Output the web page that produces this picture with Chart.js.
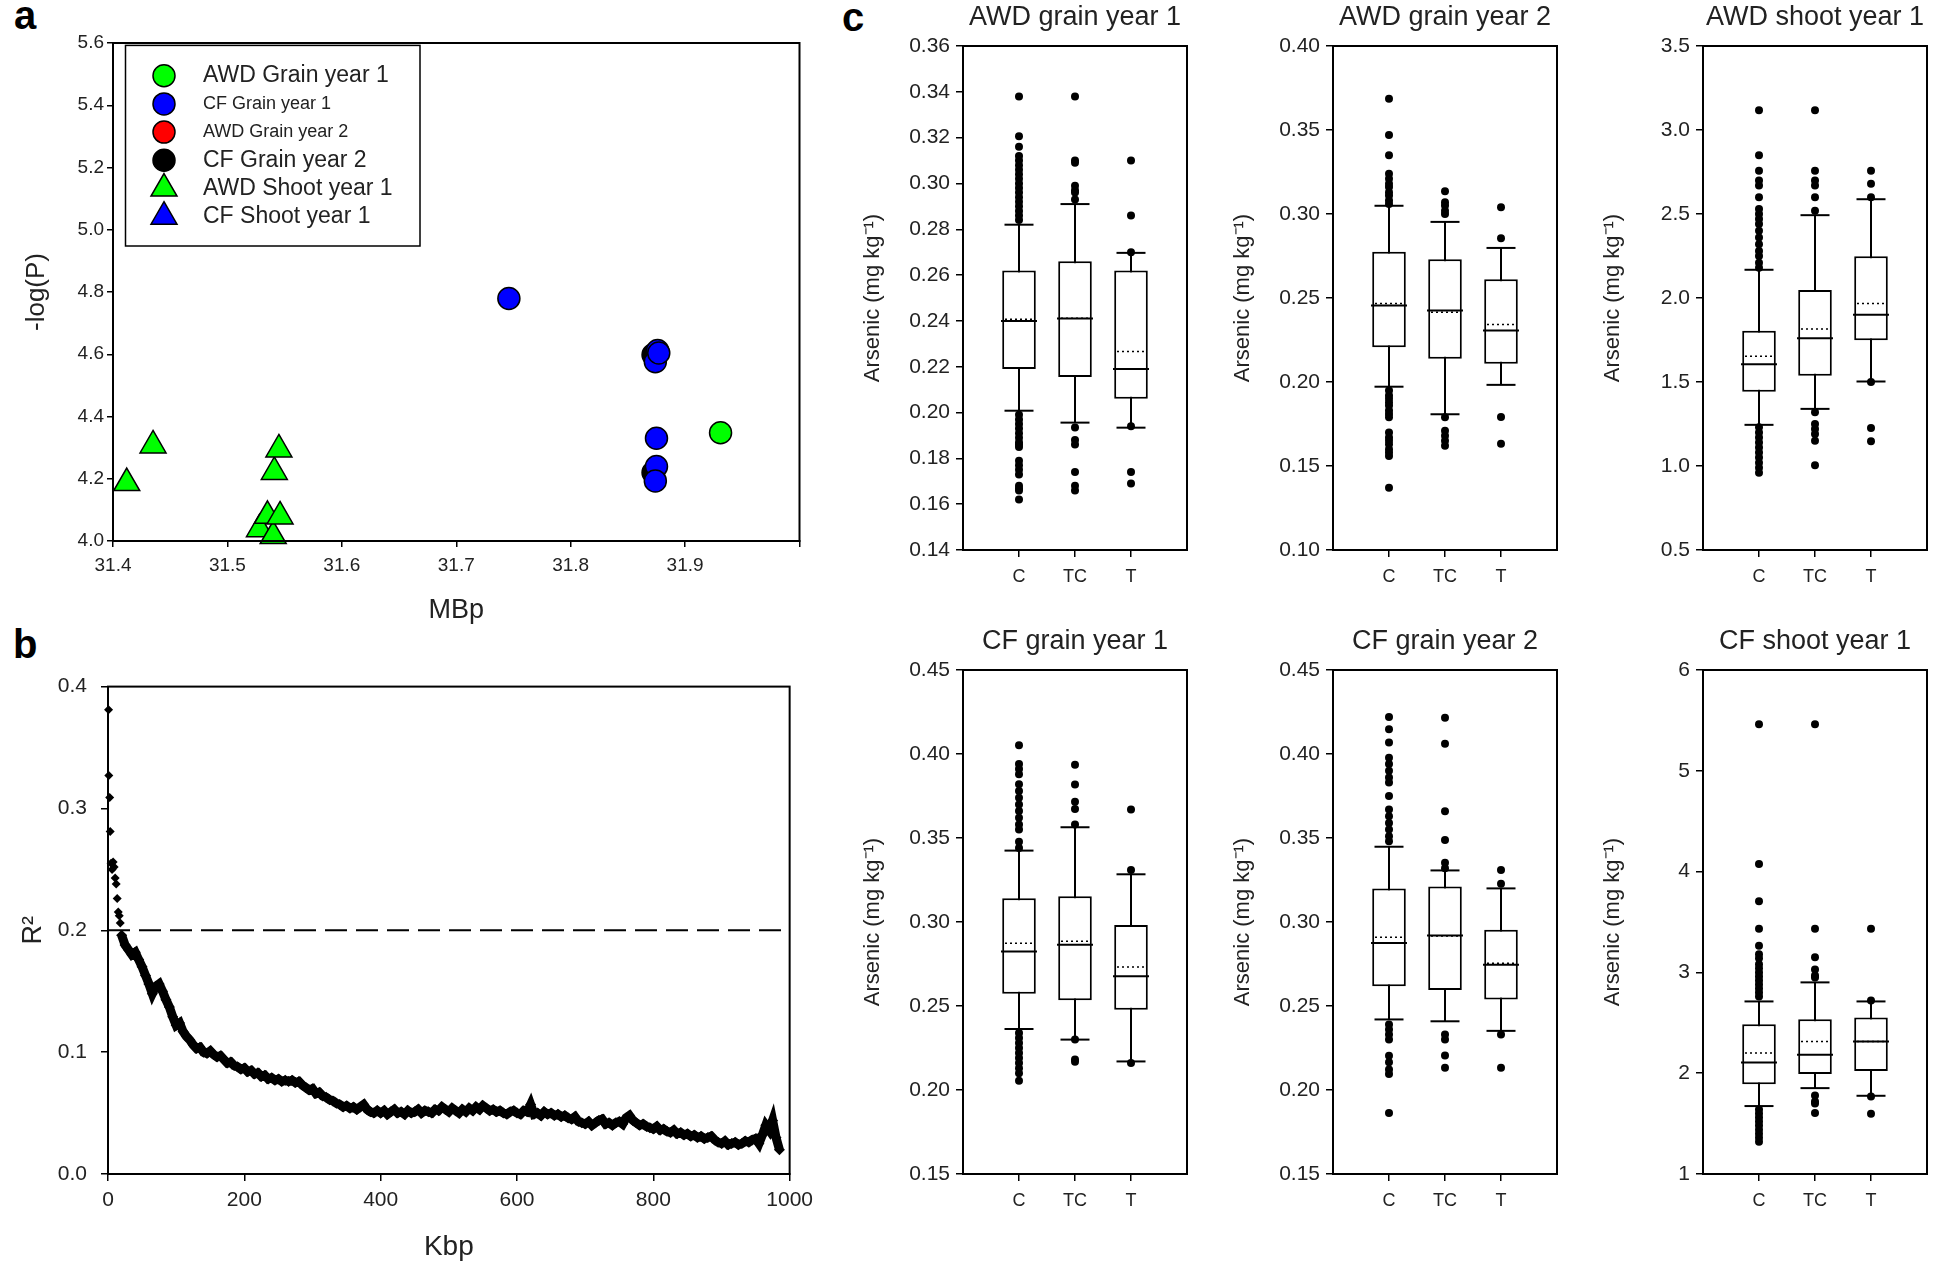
<!DOCTYPE html>
<html>
<head>
<meta charset="utf-8">
<script src="https://cdn.jsdelivr.net/npm/chart.js@4.4.1/dist/chart.umd.min.js"></script>
<style>
  html, body { margin: 0; padding: 0; background: #fff; }
  body { width: 1946px; height: 1267px; position: relative; overflow: hidden;
         font-family: "Liberation Sans", Arial, sans-serif; }
  canvas { position: absolute; }
  .tag { position: absolute; font-weight: bold; font-size: 40px; line-height: 1; color: #000; }
</style>
</head>
<body>
<div class="tag" style="left:14px;top:-5px">a</div>
<div class="tag" style="left:13px;top:624px">b</div>
<div class="tag" style="left:842px;top:-3px">c</div>

<canvas id="panelA"></canvas>
<canvas id="panelB"></canvas>
<canvas id="awdG1"></canvas>
<canvas id="awdG2"></canvas>
<canvas id="awdS1"></canvas>
<canvas id="cfG1"></canvas>
<canvas id="cfG2"></canvas>
<canvas id="cfS1"></canvas>

<script>
// ---------- panel a : significant markers (MBp, -log P) ----------
const awdGrain1X = [31.931];
const awdGrain1Y = [4.348];
const cfGrain1X = [31.746, 31.876, 31.874, 31.877, 31.875, 31.875, 31.874];
const cfGrain1Y = [4.779, 4.612, 4.576, 4.604, 4.330, 4.239, 4.193];
const awdGrain2X = [];
const awdGrain2Y = [];
const cfGrain2X = [31.872, 31.872];
const cfGrain2Y = [4.598, 4.220];
const awdShoot1X = [31.412, 31.435, 31.528, 31.535, 31.540, 31.541, 31.545, 31.546];
const awdShoot1Y = [4.186, 4.307, 4.038, 4.081, 4.016, 4.222, 4.294, 4.079];
const cfShoot1X = [];
const cfShoot1Y = [];

// ---------- panel b : LD decay (Kbp, R2) ----------
const ldEarlyKbp = [0.8, 1.2, 2.5, 3.2, 4.5, 6, 7.5, 9, 10.5, 12, 13.5, 15, 16.5, 18];
const ldEarlyR2 = [0.381, 0.327, 0.309, 0.281, 0.255, 0.250, 0.256, 0.252, 0.243, 0.238, 0.226, 0.215, 0.212, 0.206];
const ldStartKbp = 20;
const ldStepKbp = 5;
const ldR2 = [
  0.196, 0.188, 0.184, 0.180, 0.182, 0.176, 0.170, 0.163, 0.156, 0.148,
  0.154, 0.156, 0.150, 0.143, 0.137, 0.129, 0.122, 0.124, 0.117, 0.113,
  0.110, 0.106, 0.103, 0.104, 0.100, 0.099, 0.101, 0.098, 0.096, 0.097,
  0.094, 0.091, 0.092, 0.089, 0.088, 0.086, 0.087, 0.084, 0.085, 0.082,
  0.083, 0.080, 0.081, 0.078, 0.079, 0.077, 0.078, 0.076, 0.077, 0.076,
  0.077, 0.075, 0.076, 0.073, 0.071, 0.069, 0.070, 0.066, 0.067, 0.064,
  0.063, 0.061, 0.060, 0.058, 0.057, 0.055, 0.056, 0.054, 0.055, 0.053,
  0.055, 0.057, 0.053, 0.051, 0.050, 0.052, 0.050, 0.052, 0.049, 0.051,
  0.053, 0.050, 0.051, 0.049, 0.052, 0.050, 0.051, 0.053, 0.050, 0.052,
  0.051, 0.050, 0.053, 0.052, 0.055, 0.053, 0.051, 0.054, 0.052, 0.050,
  0.053, 0.051, 0.054, 0.052, 0.055, 0.053, 0.056, 0.054, 0.052, 0.053,
  0.051, 0.052, 0.050, 0.049, 0.051, 0.052, 0.050, 0.049, 0.052, 0.051,
  0.057, 0.049, 0.050, 0.048, 0.051, 0.049, 0.050, 0.048, 0.049, 0.047,
  0.048, 0.046, 0.045, 0.047, 0.043, 0.042, 0.041, 0.043, 0.040, 0.042,
  0.044, 0.045, 0.041, 0.042, 0.040, 0.042, 0.043, 0.041, 0.046, 0.048,
  0.044, 0.042, 0.040, 0.041, 0.039, 0.038, 0.037, 0.039, 0.036, 0.037,
  0.035, 0.034, 0.036, 0.033, 0.034, 0.032, 0.033, 0.031, 0.032, 0.030,
  0.031, 0.029, 0.030, 0.031, 0.028, 0.026, 0.025, 0.027, 0.024, 0.025,
  0.026, 0.024, 0.025, 0.027, 0.026, 0.028, 0.029, 0.025, 0.032, 0.040,
  0.036, 0.044, 0.030, 0.020
];
const ldThreshold = 0.2;

// ---------- panel c : arsenic box plots ----------
const boxCats = ['C', 'TC', 'T'];

const awdG1Axis = [0.14, 0.36, 0.02, 2];
const awdG1Lo = [0.2008, 0.1956, 0.1934];
const awdG1Q1 = [0.219, 0.2155, 0.206];
const awdG1Med = [0.240, 0.241, 0.219];
const awdG1Mean = [0.2407, 0.2412, 0.2267];
const awdG1Q3 = [0.262, 0.266, 0.262];
const awdG1Hi = [0.282, 0.291, 0.2697];
const awdG1Out = [
  [0.338, 0.3206, 0.316, 0.312, 0.310, 0.308, 0.306, 0.304, 0.302, 0.300, 0.298, 0.296, 0.294, 0.292, 0.290, 0.288, 0.286, 0.284,
   0.199, 0.197, 0.195, 0.193, 0.191, 0.189, 0.187, 0.186, 0.185, 0.179, 0.177, 0.175, 0.173, 0.168, 0.167, 0.166, 0.162],
  [0.338, 0.310, 0.309, 0.299, 0.297, 0.296, 0.293, 0.1935, 0.188, 0.186, 0.174, 0.168, 0.166],
  [0.310, 0.286, 0.270, 0.194, 0.174, 0.169]
];

const awdG2Axis = [0.10, 0.40, 0.05, 2];
const awdG2Lo = [0.1972, 0.1808, 0.1983];
const awdG2Q1 = [0.2207, 0.2138, 0.2109];
const awdG2Med = [0.2455, 0.2425, 0.2307];
const awdG2Mean = [0.2468, 0.2415, 0.2343];
const awdG2Q3 = [0.2776, 0.273, 0.2612];
const awdG2Hi = [0.3049, 0.2953, 0.2798];
const awdG2Out = [
  [0.3686, 0.347, 0.335, 0.324, 0.321, 0.318, 0.316, 0.313, 0.311, 0.308, 0.306,
   0.195, 0.192, 0.190, 0.188, 0.186, 0.183, 0.181, 0.179, 0.170, 0.167, 0.165, 0.163, 0.160, 0.158, 0.156, 0.137],
  [0.3135, 0.307, 0.305, 0.302, 0.300, 0.179, 0.171, 0.168, 0.165, 0.162],
  [0.304, 0.2855, 0.1792, 0.1632]
];

const awdS1Axis = [0.5, 3.5, 0.5, 1];
const awdS1Lo = [1.245, 1.340, 1.503];
const awdS1Q1 = [1.442, 1.537, 1.748];
const awdS1Med = [1.605, 1.760, 1.900];
const awdS1Mean = [1.653, 1.816, 1.968];
const awdS1Q3 = [1.805, 2.048, 2.248];
const awdS1Hi = [2.168, 2.493, 2.588];
const awdS1Out = [
  [3.117, 2.849, 2.758, 2.70, 2.67, 2.60, 2.53, 2.50, 2.47, 2.44, 2.40, 2.36, 2.32, 2.28, 2.25, 2.21, 2.18,
   1.23, 1.20, 1.17, 1.14, 1.11, 1.08, 1.05, 1.02, 0.99, 0.96],
  [3.117, 2.758, 2.70, 2.67, 2.60, 2.52, 1.32, 1.25, 1.22, 1.19, 1.15, 1.004],
  [2.758, 2.68, 2.60, 1.50, 1.226, 1.147]
];

const cfG1Axis = [0.15, 0.45, 0.05, 2];
const cfG1Lo = [0.2363, 0.2300, 0.217];
const cfG1Q1 = [0.2573, 0.2534, 0.2477];
const cfG1Med = [0.2825, 0.2864, 0.2677];
const cfG1Mean = [0.2873, 0.2886, 0.2732];
const cfG1Q3 = [0.3141, 0.3154, 0.2982];
const cfG1Hi = [0.3425, 0.3564, 0.3284];
const cfG1Out = [
  [0.4052, 0.394, 0.391, 0.388, 0.382, 0.378, 0.374, 0.370, 0.366, 0.362, 0.358, 0.355, 0.3477, 0.344,
   0.234, 0.231, 0.228, 0.225, 0.222, 0.219, 0.216, 0.213, 0.210, 0.2055],
  [0.3936, 0.3818, 0.3716, 0.3672, 0.358, 0.230, 0.2182, 0.2168],
  [0.367, 0.331, 0.216]
];

const cfG2Axis = [0.15, 0.45, 0.05, 2];
const cfG2Lo = [0.242, 0.2409, 0.2352];
const cfG2Q1 = [0.2618, 0.2595, 0.2538];
const cfG2Med = [0.2875, 0.292, 0.2745];
const cfG2Mean = [0.2909, 0.2916, 0.2754];
const cfG2Q3 = [0.320, 0.3211, 0.2954];
const cfG2Hi = [0.3448, 0.3307, 0.320];
const cfG2Out = [
  [0.422, 0.4148, 0.4068, 0.3977, 0.394, 0.390, 0.386, 0.383, 0.375, 0.367, 0.363, 0.359, 0.355, 0.351, 0.348,
   0.239, 0.236, 0.233, 0.230, 0.2204, 0.2165, 0.2122, 0.2095, 0.1863],
  [0.4216, 0.4061, 0.3659, 0.3488, 0.3352, 0.332, 0.233, 0.230, 0.2205, 0.2132],
  [0.3309, 0.3227, 0.233, 0.2132]
];

const cfS1Axis = [1, 6, 1, 0];
const cfS1Lo = [1.674, 1.852, 1.776];
const cfS1Q1 = [1.890, 1.992, 2.023];
const cfS1Med = [2.106, 2.182, 2.314];
const cfS1Mean = [2.201, 2.314, 2.314];
const cfS1Q3 = [2.485, 2.534, 2.553];
const cfS1Hi = [2.712, 2.901, 2.712];
const cfS1Out = [
  [5.462, 4.076, 3.705, 3.432, 3.265, 3.18, 3.14, 3.08, 3.04, 3.00, 2.96, 2.92, 2.88, 2.84, 2.80, 2.76,
   1.64, 1.60, 1.56, 1.52, 1.48, 1.44, 1.40, 1.36, 1.32],
  [5.462, 3.432, 3.151, 3.03, 2.97, 2.95, 1.78, 1.72, 1.70, 1.606],
  [3.432, 2.72, 1.77, 1.598]
];

// ---------- common setup ----------
Chart.defaults.font.family = '"Liberation Sans", Arial, Helvetica, sans-serif';
Chart.defaults.color = '#222';
Chart.defaults.animation = false;
Chart.defaults.events = [];
Chart.defaults.plugins.legend.display = false;
Chart.defaults.plugins.tooltip.enabled = false;

const INK = '#000';

function place(canvas, left, top, w, h) {
  canvas.width = w;
  canvas.height = h;
  canvas.style.left = left + 'px';
  canvas.style.top = top + 'px';
  canvas.style.width = w + 'px';
  canvas.style.height = h + 'px';
}

const zip = (xs, ys) => xs.map((x, i) => ({ x, y: ys[i] }));

// closed box round the plotting area
const frame = {
  id: 'frame',
  afterDatasetsDraw(chart) {
    const { ctx, chartArea: a } = chart;
    ctx.save();
    ctx.strokeStyle = INK;
    ctx.lineWidth = 2;
    ctx.strokeRect(a.left, a.top, a.right - a.left, a.bottom - a.top);
    ctx.restore();
  }
};

// legend box of panel a, one row per dataset, with its own text size
const boxLegend = {
  id: 'boxLegend',
  afterDraw(chart, args, o) {
    const { ctx, chartArea } = chart;
    const x0 = chartArea.left + o.x, y0 = chartArea.top + o.y;
    ctx.save();
    ctx.fillStyle = '#fff';
    ctx.fillRect(x0, y0, o.w, o.h);
    ctx.strokeStyle = INK;
    ctx.lineWidth = 1.5;
    ctx.strokeRect(x0, y0, o.w, o.h);
    chart.data.datasets.forEach((ds, i) => {
      const cy = y0 + o.firstRow + i * o.rowGap;
      ctx.fillStyle = ds.pointBackgroundColor;
      ctx.strokeStyle = ds.pointBorderColor;
      ctx.lineWidth = ds.pointBorderWidth;
      Chart.helpers.drawPoint(ctx, {
        pointStyle: ds.pointStyle, radius: ds.pointRadius, rotation: 0, borderWidth: ds.pointBorderWidth
      }, x0 + o.markerX, cy);
      ctx.fillStyle = '#222';
      ctx.textBaseline = 'middle';
      ctx.textAlign = 'left';
      ctx.font = ds.legendSize + 'px "Liberation Sans", Arial, sans-serif';
      ctx.fillText(ds.label, x0 + o.textX, cy);
    });
    ctx.restore();
  }
};

const tickGrid = (len) => ({ drawOnChartArea: false, tickLength: len, color: INK, lineWidth: 1.5 });
const axisBorder = { display: true, color: INK, width: 2 };

// ---------- panel a ----------
function markerSet(label, xs, ys, style, colour, size, order) {
  return {
    label, data: zip(xs, ys),
    pointStyle: style,
    pointRadius: style === 'triangle' ? 15 : 11,
    pointBackgroundColor: colour, pointBorderColor: INK, pointBorderWidth: 1.5,
    legendSize: size, clip: false, order
  };
}

const cA = document.getElementById('panelA');
place(cA, 0, 0, 816, 631);
new Chart(cA, {
  type: 'scatter',
  data: {
    datasets: [
      markerSet('AWD Grain year 1', awdGrain1X, awdGrain1Y, 'circle', '#00ff00', 23, 1),
      markerSet('CF Grain year 1', cfGrain1X, cfGrain1Y, 'circle', '#0000ff', 18, 2),
      markerSet('AWD Grain year 2', awdGrain2X, awdGrain2Y, 'circle', '#ff0000', 18, 3),
      markerSet('CF Grain year 2', cfGrain2X, cfGrain2Y, 'circle', '#000000', 23, 6),
      markerSet('AWD Shoot year 1', awdShoot1X, awdShoot1Y, 'triangle', '#00ff00', 23, 4),
      markerSet('CF Shoot year 1', cfShoot1X, cfShoot1Y, 'triangle', '#0000ff', 23, 5)
    ]
  },
  options: {
    responsive: false,
    devicePixelRatio: 1,
    layout: { padding: { top: 43, right: 10, bottom: 0, left: 0 } },
    scales: {
      x: {
        type: 'linear', min: 31.4, max: 32.0,
        afterFit: (s) => { s.height = 90; },
        ticks: { stepSize: 0.1, font: { size: 19 }, padding: 7, maxRotation: 0, autoSkip: false,
                 callback: (v) => (v > 31.95 ? '' : v.toFixed(1)) },
        grid: tickGrid(6), border: axisBorder,
        title: { display: true, text: 'MBp', font: { size: 27 }, padding: { top: 0, bottom: 4 } }
      },
      y: {
        min: 4.0, max: 5.6,
        afterFit: (s) => { s.width = 113; },
        ticks: { stepSize: 0.2, font: { size: 19 }, padding: 3, callback: (v) => v.toFixed(1) },
        grid: tickGrid(6), border: axisBorder,
        title: { display: true, text: '-log(P)', font: { size: 26 }, padding: { top: 21, bottom: 0 } }
      }
    },
    plugins: {
      boxLegend: { x: 12.5, y: 2.4, w: 294.5, h: 200.6, firstRow: 30.3, rowGap: 28.2, markerX: 38.5, textX: 77.5 }
    }
  },
  plugins: [frame, boxLegend]
});

// ---------- panel b ----------
const cB = document.getElementById('panelB');
place(cB, 0, 660, 820, 607);
new Chart(cB, {
  type: 'scatter',
  data: {
    datasets: [
      {
        data: zip(ldEarlyKbp, ldEarlyR2),
        pointStyle: 'rectRot', pointRadius: 4.5,
        pointBackgroundColor: INK, pointBorderColor: INK, pointBorderWidth: 0, clip: false
      },
      {
        data: ldR2.map((r, i) => ({ x: ldStartKbp + i * ldStepKbp, y: r })),
        showLine: true, borderColor: INK, borderWidth: 9,
        pointStyle: 'rectRot', pointRadius: 5.5,
        pointBackgroundColor: INK, pointBorderColor: INK, pointBorderWidth: 0, clip: false
      },
      {
        data: [{ x: 0, y: ldThreshold }, { x: 1000, y: ldThreshold }],
        showLine: true, borderColor: INK, borderWidth: 2, borderDash: [22, 9], pointRadius: 0
      }
    ]
  },
  options: {
    responsive: false,
    devicePixelRatio: 1,
    layout: { padding: { top: 20, right: 26, bottom: 0, left: 0 } },
    scales: {
      x: {
        type: 'linear', min: 0, max: 1000,
        afterFit: (s) => { s.height = 93; },
        ticks: { stepSize: 200, font: { size: 21 }, padding: 7, maxRotation: 0, autoSkip: false,
                 callback: (v) => String(v) },
        grid: tickGrid(7), border: axisBorder,
        title: { display: true, text: 'Kbp', font: { size: 28 }, padding: { top: 0, bottom: 3 } }
      },
      y: {
        min: 0, max: 0.4,
        afterFit: (s) => { s.width = 108; },
        ticks: { stepSize: 0.1, font: { size: 21 }, padding: 14, callback: (v) => v.toFixed(1) },
        grid: tickGrid(7), border: axisBorder,
        title: { display: true, text: 'R²', font: { size: 27 }, padding: { top: 17, bottom: 0 } }
      }
    }
  },
  plugins: [frame]
});

// ---------- panel c ----------
const colAxisX = [963, 1333, 1703];
const rowPlotTop = [46, 670];
const plotW = 240, plotH = 504;

function boxPanel(id, col, row, title, axis, lo, q1, med, mean, q3, hi, out) {
  const canvas = document.getElementById(id);
  place(canvas, colAxisX[col] - 110, rowPlotTop[row] - 46, 110 + plotW + 4, 46 + plotH + 50);
  const pos = boxCats.map((c, i) => i + 1);
  const pts = (vals) => pos.map((x, i) => ({ x, y: vals[i] }));
  const seg = (vals, hw) => pos.flatMap((x, i) => [{ x: x - hw, y: vals[i] }, { x: x + hw, y: vals[i] }, { x, y: null }]);
  const [yMin, yMax, yStep, dec] = axis;

  return new Chart(canvas, {
    type: 'bar',
    data: {
      datasets: [
        { // whiskers
          type: 'line',
          data: pos.flatMap((x, i) => [{ x, y: lo[i] }, { x, y: hi[i] }, { x, y: null }]),
          borderColor: INK, borderWidth: 2, pointRadius: 0, spanGaps: false, order: 4
        },
        { // boxes
          type: 'bar',
          data: pos.map((x, i) => ({ x, y: [q1[i], q3[i]] })),
          backgroundColor: '#fff', borderColor: INK, borderWidth: 2, borderSkipped: false,
          barPercentage: 0.6, categoryPercentage: 1, order: 3
        },
        { // mean, dotted
          type: 'line', data: seg(mean, 0.25),
          borderColor: INK, borderWidth: 1.5, borderDash: [2, 3], pointRadius: 0, spanGaps: false, order: 2
        },
        { // median
          type: 'scatter', data: pts(med),
          pointStyle: 'line', pointRadius: 18, pointBorderColor: INK, pointBorderWidth: 2, order: 1
        },
        { // whisker caps
          type: 'scatter', data: [...pts(lo), ...pts(hi)],
          pointStyle: 'line', pointRadius: 14.5, pointBorderColor: INK, pointBorderWidth: 2, order: 1
        },
        { // outliers
          type: 'scatter',
          data: pos.flatMap((x, i) => out[i].map((v) => ({ x, y: v }))),
          pointStyle: 'circle', pointRadius: 4,
          pointBackgroundColor: INK, pointBorderColor: INK, pointBorderWidth: 0, clip: false, order: 0
        }
      ]
    },
    options: {
      responsive: false,
      devicePixelRatio: 1,
      layout: { padding: { top: 4, right: 4, bottom: 0, left: 0 } },
      scales: {
        x: {
          type: 'linear', min: 0, max: 4, offset: false,
          afterBuildTicks: (s) => { s.ticks = pos.map((v) => ({ value: v })); },
          afterFit: (s) => { s.height = 50; },
          ticks: { font: { size: 18 }, padding: 9, maxRotation: 0, autoSkip: false,
                   callback: (v) => boxCats[v - 1] },
          grid: { ...tickGrid(7), offset: false }, border: axisBorder
        },
        y: {
          min: yMin, max: yMax,
          afterFit: (s) => { s.width = 110; },
          ticks: { stepSize: yStep, font: { size: 21 }, padding: 6, callback: (v) => v.toFixed(dec) },
          grid: tickGrid(7), border: axisBorder,
          title: { display: true, text: 'Arsenic (mg kg⁻¹)', font: { size: 22 }, padding: { top: 7, bottom: 0 } }
        }
      },
      plugins: {
        title: { display: true, fullSize: false, text: title,
                 font: { size: 27, weight: 'normal', lineHeight: 1 },
                 color: '#222', padding: { top: 0, bottom: 15 } }
      }
    },
    plugins: [frame]
  });
}

boxPanel('awdG1', 0, 0, 'AWD grain year 1', awdG1Axis, awdG1Lo, awdG1Q1, awdG1Med, awdG1Mean, awdG1Q3, awdG1Hi, awdG1Out);
boxPanel('awdG2', 1, 0, 'AWD grain year 2', awdG2Axis, awdG2Lo, awdG2Q1, awdG2Med, awdG2Mean, awdG2Q3, awdG2Hi, awdG2Out);
boxPanel('awdS1', 2, 0, 'AWD shoot year 1', awdS1Axis, awdS1Lo, awdS1Q1, awdS1Med, awdS1Mean, awdS1Q3, awdS1Hi, awdS1Out);
boxPanel('cfG1', 0, 1, 'CF grain year 1', cfG1Axis, cfG1Lo, cfG1Q1, cfG1Med, cfG1Mean, cfG1Q3, cfG1Hi, cfG1Out);
boxPanel('cfG2', 1, 1, 'CF grain year 2', cfG2Axis, cfG2Lo, cfG2Q1, cfG2Med, cfG2Mean, cfG2Q3, cfG2Hi, cfG2Out);
boxPanel('cfS1', 2, 1, 'CF shoot year 1', cfS1Axis, cfS1Lo, cfS1Q1, cfS1Med, cfS1Mean, cfS1Q3, cfS1Hi, cfS1Out);
</script>
</body>
</html>
